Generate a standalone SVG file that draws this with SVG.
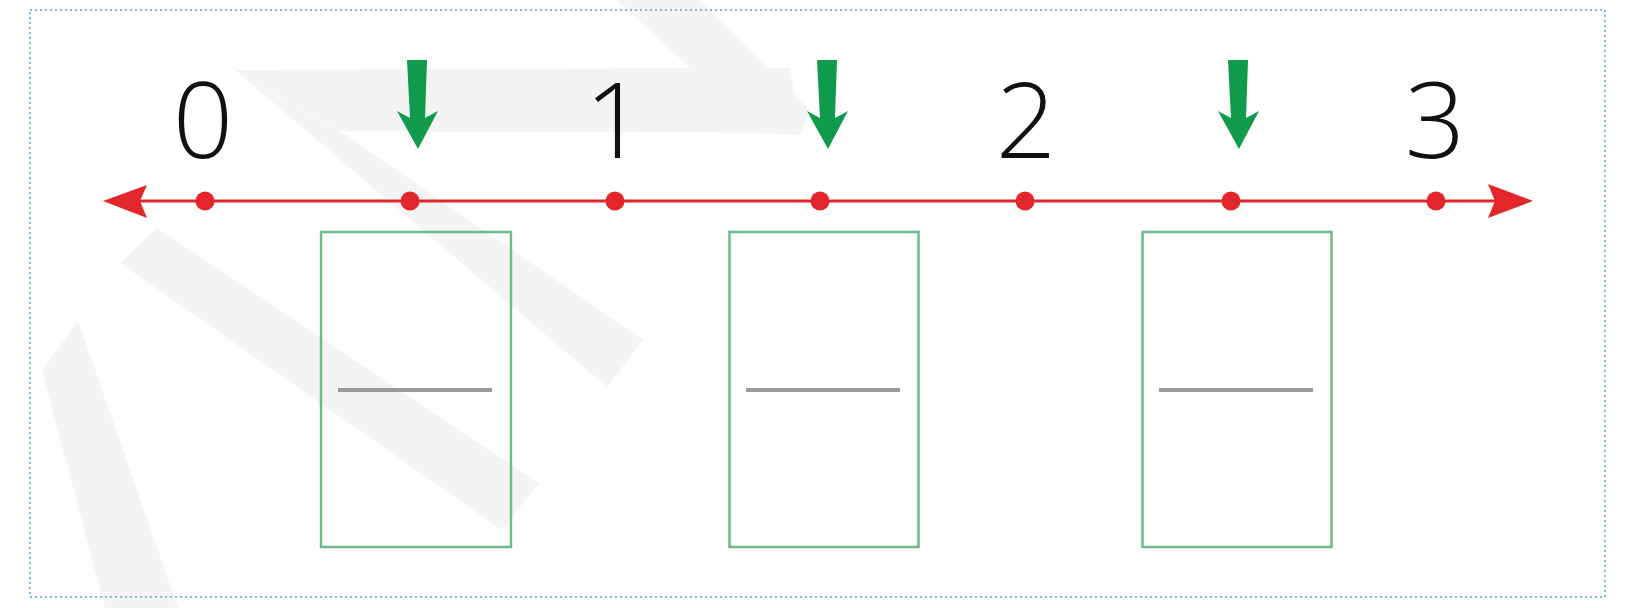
<svg xmlns="http://www.w3.org/2000/svg" width="1627" height="608" viewBox="0 0 1627 608">
<style>
.num{font-family:"Open Sans","Liberation Sans",sans-serif;font-weight:300;font-size:106px;fill:#111;text-anchor:middle}
.box{fill:none;stroke:#6dba8a;stroke-width:2.5}
.bar{stroke:#9a9a9a;stroke-width:4}
.dot{fill:#e3262b}
.garrow{fill:#0f9a4c}
.wm{fill:#f4f4f4}
</style>
<defs>
<path id="ga" d="M -10,0 L 10,0 L 8,58 L 21,51 L 1,89 L -20,51 L -7,58 Z"/>
</defs>
<rect width="1627" height="608" fill="#ffffff"/>
<g id="watermark">
<polygon class="wm" points="235,70 790,68 800,133 340,131"/>
<polygon class="wm" points="617,0 701,0 810,110 800,135 760,133"/>
<polygon class="wm" points="235,70 340,131 643,340 607,387"/>
<polygon class="wm" points="157,228 539,483 502,530 120,263"/>
<polygon class="wm" points="78,321 178,608 105,608 42,371"/>
</g>
<rect id="frame" x="30" y="10" width="1575" height="587" fill="none" stroke="#79bccb" stroke-width="2" stroke-dasharray="2 3"/>
<g id="numberline">
<line x1="120" y1="201" x2="1515" y2="201" stroke="#e3262b" stroke-width="3"/>
<polygon fill="#e3262b" points="103,201 147,185 140,201 147,218"/>
<polygon fill="#e3262b" points="1533,201 1488,184 1495,201 1488,218"/>
<circle class="dot" cx="205" cy="201" r="9.5"/>
<circle class="dot" cx="410" cy="201" r="9.5"/>
<circle class="dot" cx="615" cy="201" r="9.5"/>
<circle class="dot" cx="820" cy="201" r="9.5"/>
<circle class="dot" cx="1025" cy="201" r="9.5"/>
<circle class="dot" cx="1231" cy="201" r="9.5"/>
<circle class="dot" cx="1436" cy="201" r="9.5"/>
</g>
<g id="labels">
<text class="num" x="203" y="158">0</text>
<text class="num" x="615" y="158">1</text>
<text class="num" x="1026" y="158">2</text>
<text class="num" x="1435" y="158">3</text>
</g>
<g id="connectors">
<use href="#ga" class="garrow" transform="translate(417,60)"/>
<use href="#ga" class="garrow" transform="translate(827,60)"/>
<use href="#ga" class="garrow" transform="translate(1238,60)"/>
</g>
<g id="box1">
<rect class="box" x="321" y="232" width="190" height="315"/>
<line class="bar" x1="338" y1="390" x2="492" y2="390"/>
</g>
<g id="box2">
<rect class="box" x="729.5" y="232" width="189" height="315"/>
<line class="bar" x1="746" y1="390" x2="900" y2="390"/>
</g>
<g id="box3">
<rect class="box" x="1142.5" y="232" width="189" height="315"/>
<line class="bar" x1="1159" y1="390" x2="1313" y2="390"/>
</g>
</svg>
